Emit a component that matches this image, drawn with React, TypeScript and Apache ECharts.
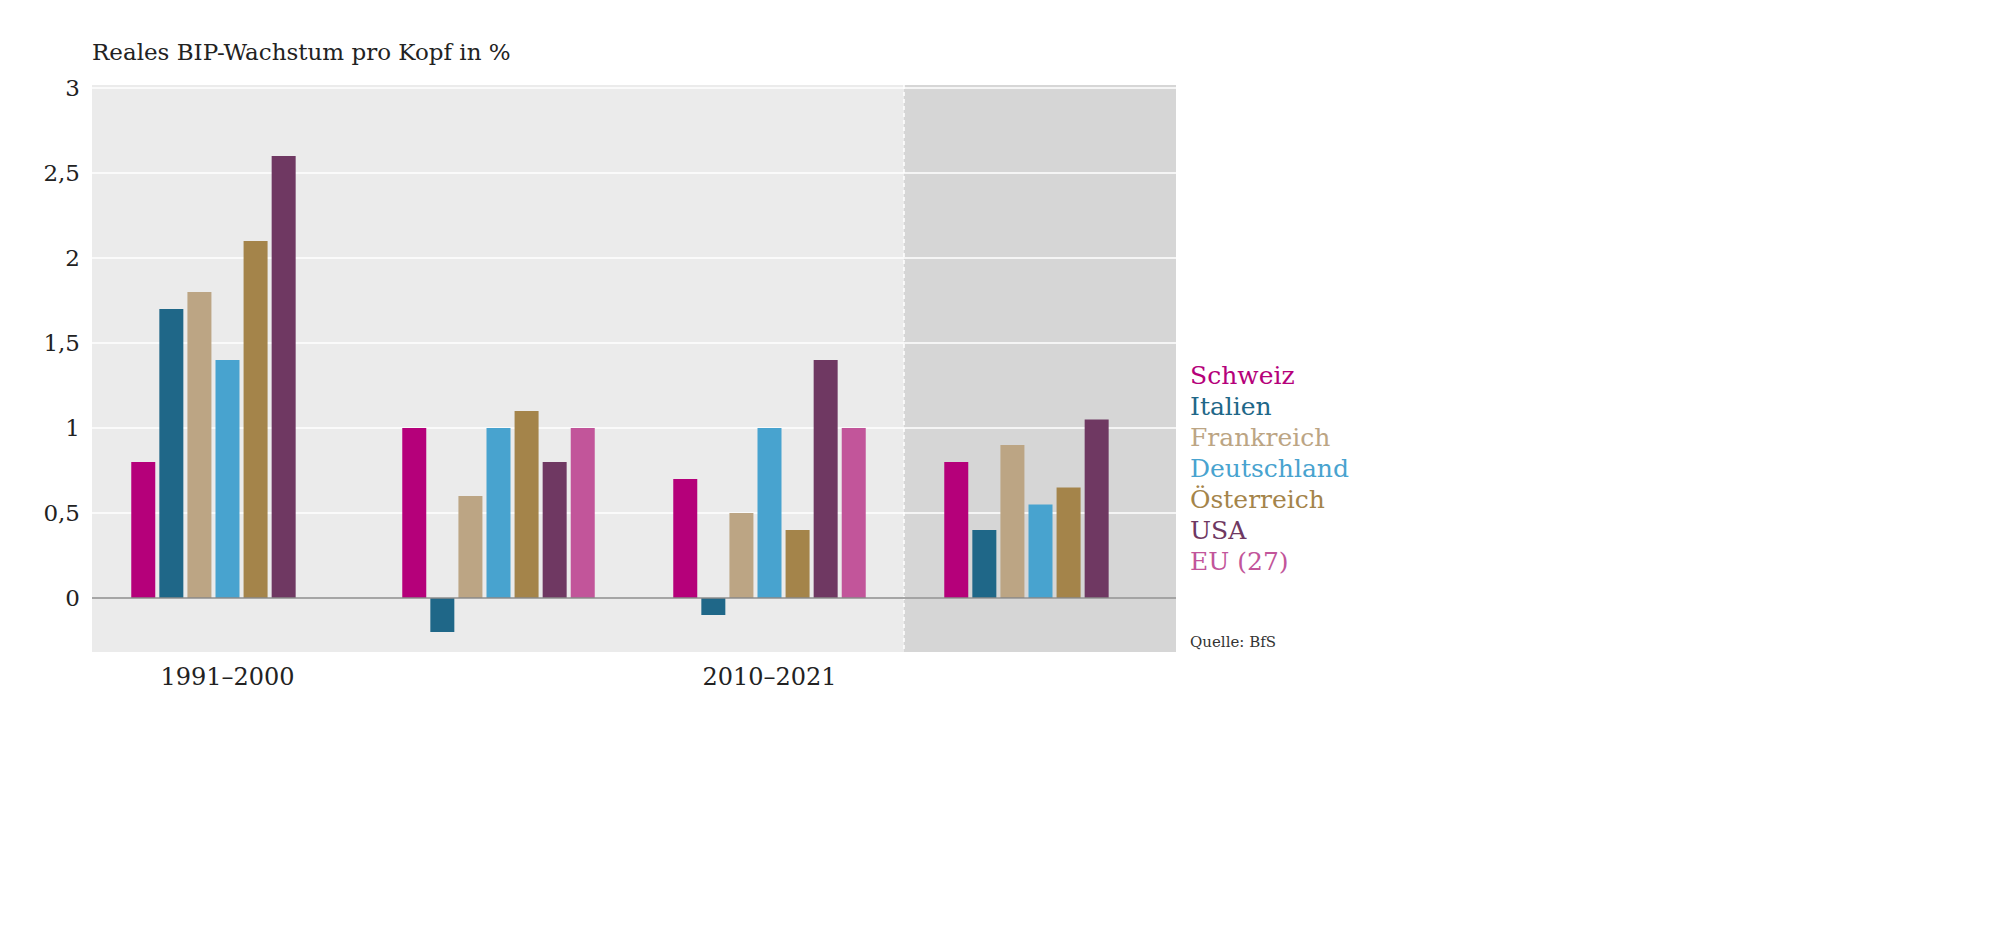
import React, { useEffect, useRef } from "react";
import * as echarts from "echarts";

const categories = ["1991–2000", "2000–2010", "2010–2021", "Mittel 1991–2021"];
const seriesNames = ["Schweiz", "Italien", "Frankreich", "Deutschland", "Österreich", "USA", "EU (27)"];
const colors = ["#b5007a", "#1f6788", "#bca584", "#48a3cf", "#a4844a", "#6f3862", "#c2559a"];
const schweiz = [0.8, 1.0, 0.7, 0.8];
const italien = [1.7, -0.2, -0.1, 0.4];
const frankreich = [1.8, 0.6, 0.5, 0.9];
const deutschland = [1.4, 1.0, 1.0, 0.55];
const oesterreich = [2.1, 1.1, 0.4, 0.65];
const usa = [2.6, 0.8, 1.4, 1.05];
const eu = [null, 1.0, 1.0, null];
const values = [schweiz, italien, frankreich, deutschland, oesterreich, usa, eu];

const FONT = "DejaVu Serif";

export default function App() {
  const ref = useRef<HTMLDivElement>(null);
  useEffect(() => {
    const chart = echarts.init(ref.current!, null, { renderer: "svg" });
    const O = 8;
    const L = 92 - O, T = 88 - O, W = 1084, H = 595;
    chart.setOption({
      animation: false,
      grid: { left: L, top: T, width: W, height: H, containLabel: false },
      graphic: [
        { type: "rect", shape: { x: L, y: 85 - O, width: 812, height: 567 }, style: { fill: "#ebebeb" }, z: -10 },
        { type: "rect", shape: { x: 904 - O, y: 85 - O, width: 272, height: 567 }, style: { fill: "#d6d6d6" }, z: -10 },
        { type: "line", shape: { x1: 904 - O, y1: 85 - O, x2: 904 - O, y2: 652 - O }, style: { stroke: "#ffffff", lineWidth: 1.5, lineDash: [4, 3] }, z: -5 },
        { type: "text", x: 92 - O, y: 40 - O, style: { text: "Reales BIP-Wachstum pro Kopf in %", font: `23px '${FONT}'`, fill: "#222" } },
        { type: "text", x: 1190 - O, y: 634 - O, style: { text: "Quelle: BfS", font: `15px '${FONT}'`, fill: "#333" } },
      ],
      legend: {
        orient: "vertical",
        left: 1180 - O,
        top: 358 - O,
        itemGap: 6,
        itemWidth: 0,
        itemHeight: 24,
        icon: "none",
        selectedMode: false,
        data: seriesNames.map((n, i) => ({ name: n, textStyle: { color: colors[i], fontSize: 25, fontFamily: FONT } })),
      },
      xAxis: {
        type: "category",
        data: categories,
        axisLine: { show: false, onZero: false },
        axisTick: { show: false },
        axisLabel: { margin: -18, fontSize: 24, fontFamily: FONT, color: "#222" },
      },
      yAxis: {
        type: "value",
        min: -0.5,
        max: 3,
        interval: 0.5,
        axisLabel: {
          fontSize: 23,
          fontFamily: FONT,
          color: "#222",
          margin: 12,
          formatter: (v: number) => (v < 0 ? "" : String(v).replace(".", ",")),
        },
        splitLine: { lineStyle: { color: "#ffffff", width: 1.5 } },
        axisLine: { show: false },
        axisTick: { show: false },
      },
      series: seriesNames.map((n, i) => ({
        name: n,
        type: "bar",
        data: values[i],
        barWidth: 24,
        barGap: "17%",
        itemStyle: { color: colors[i] },
        ...(i === 0
          ? {
              markLine: {
                silent: true,
                symbol: "none",
                label: { show: false },
                lineStyle: { color: "#888", width: 1.5, type: "solid" },
                data: [{ yAxis: 0 }],
              },
            }
          : {}),
      })),
    });
    return () => chart.dispose();
  }, []);
  return <div ref={ref} style={{ width: 1984, height: 918 }} />;
}
